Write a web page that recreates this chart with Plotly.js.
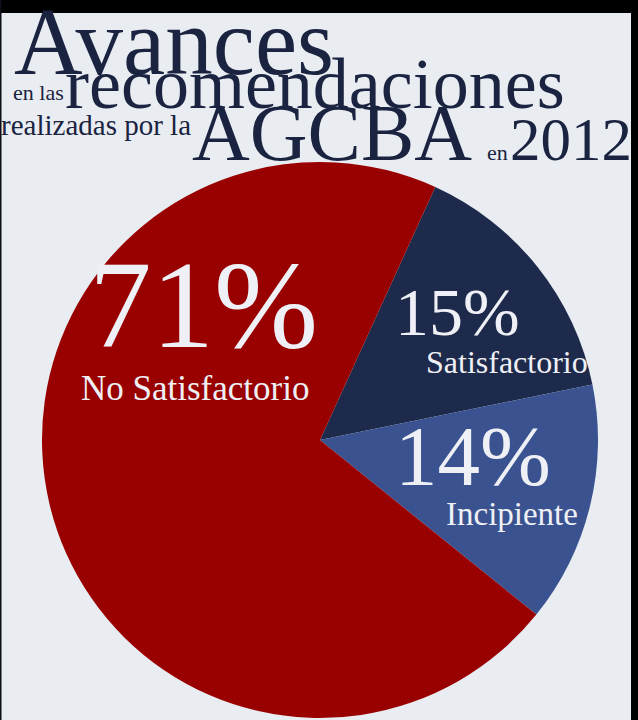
<!DOCTYPE html>
<html>
<head>
<meta charset="utf-8">
<script src="https://cdn.plot.ly/plotly-3.0.1.min.js"></script>
<style>
html,body{margin:0;padding:0;background:#e9ecf1;}
#chart{width:638px;height:720px;}
</style>
</head>
<body>
<div id="chart"></div>
<script>
// ---- data ----
var categories = ["Satisfactorio", "Incipiente", "No Satisfactorio"];
var values = [15, 14, 71];
var pctLabels = ["15%", "14%", "71%"];
var sliceColors = ["#1e2a4b", "#3a5390", "#990000"];
var titleParts = ["Avances", "en las", "recomendaciones", "realizadas por la", "AGCBA", "en", "2012"];

var W = 638, H = 720;
function px(x){ return x / W; }
function py(y){ return 1 - y / H; }
var serif = "Liberation Serif, Times New Roman, serif";
var navy = "#1a2340";
var white = "#eef0f5";

// title layout: [left x, baseline y, size]
var titlePos = [
  [13, 74, 95],
  [12, 100, 22],
  [64, 108, 72],
  [0, 135, 29],
  [191, 160, 80],
  [486, 160, 22],
  [509, 160, 61]
];
var annotations = [];
titleParts.forEach(function(t, i){
  var p = titlePos[i];
  annotations.push({
    text: t, xref: "paper", yref: "paper",
    x: px(p[0]), y: py(p[1] - 0.3375 * p[2]),
    xanchor: "left", yanchor: "middle", showarrow: false, borderpad: 0,
    font: {family: serif, size: p[2], color: navy}
  });
});

// slice label layout: [pct x, pct baseline, pct size, name x, name baseline, name size]
var labelPos = [
  [394, 335, 68, 425, 373, 32],
  [394, 485, 85, 445, 525, 33],
  [88, 347, 125, 80, 400, 35]
];
categories.forEach(function(c, i){
  var p = labelPos[i];
  annotations.push({
    text: pctLabels[i], xref: "paper", yref: "paper",
    x: px(p[0]), y: py(p[1] - 0.3375 * p[2]),
    xanchor: "left", yanchor: "middle", showarrow: false, borderpad: 0,
    font: {family: serif, size: p[2], color: white}
  });
  annotations.push({
    text: c, xref: "paper", yref: "paper",
    x: px(p[3]), y: py(p[4] - 0.3375 * p[5]),
    xanchor: "left", yanchor: "middle", showarrow: false, borderpad: 0,
    font: {family: serif, size: p[5], color: white}
  });
});

var cx = 320, cy = 440, r = 278;
var trace = {
  type: "pie",
  labels: categories,
  values: values,
  sort: false,
  direction: "clockwise",
  rotation: 24.5,
  marker: {colors: sliceColors, line: {width: 0}},
  textinfo: "none",
  hoverinfo: "skip",
  showlegend: false,
  domain: {x: [px(cx - r), px(cx + r)], y: [py(cy + r), py(cy - r)]}
};

var layout = {
  width: W, height: H,
  margin: {l: 0, r: 0, t: 0, b: 0, pad: 0},
  paper_bgcolor: "#e9ecf1",
  plot_bgcolor: "#e9ecf1",
  showlegend: false,
  annotations: annotations,
  shapes: [
    {type: "rect", xref: "paper", yref: "paper", x0: 0, x1: 1, y0: py(13), y1: 1, fillcolor: "#000", line: {width: 0}, layer: "above"},
    {type: "rect", xref: "paper", yref: "paper", x0: px(631), x1: 1, y0: 0, y1: 1, fillcolor: "#000", line: {width: 0}, layer: "above"},
    {type: "rect", xref: "paper", yref: "paper", x0: 0, x1: px(1.5), y0: 0, y1: 1, fillcolor: "#0a0f18", line: {width: 0}, layer: "above"}
  ]
};

Plotly.newPlot("chart", [trace], layout, {displayModeBar: false, staticPlot: true});
</script>
</body>
</html>
